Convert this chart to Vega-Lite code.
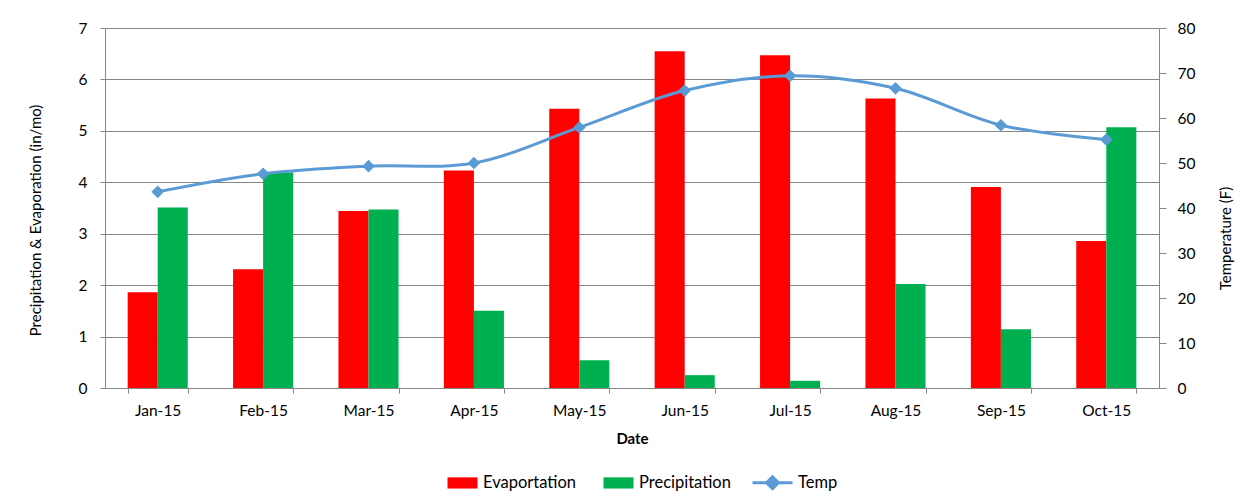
{
  "$schema": "https://vega.github.io/schema/vega-lite/v6.json",
  "width": 1054,
  "height": 360,
  "autosize": {"type": "none"},
  "padding": {"left": 105, "top": 28, "right": 87, "bottom": 111},
  "background": "white",
  "config": {
    "font": "Lato",
    "view": {"stroke": null},
    "axis": {
      "labelFont": "Lato",
      "titleFont": "Lato",
      "labelColor": "#000000",
      "titleColor": "#000000",
      "domainColor": "#868686",
      "tickColor": "#868686",
      "gridColor": "#868686",
      "labelFontSize": 15.5,
      "titleFontSize": 15
    }
  },
  "data": {
    "values": [
      {"month": "Jan-15", "Evaportation": 1.86, "Precipitation": 3.51, "Temp": 43.6},
      {"month": "Feb-15", "Evaportation": 2.31, "Precipitation": 4.19, "Temp": 47.6},
      {"month": "Mar-15", "Evaportation": 3.44, "Precipitation": 3.47, "Temp": 49.3},
      {"month": "Apr-15", "Evaportation": 4.23, "Precipitation": 1.50, "Temp": 50.0},
      {"month": "May-15", "Evaportation": 5.43, "Precipitation": 0.54, "Temp": 57.9},
      {"month": "Jun-15", "Evaportation": 6.55, "Precipitation": 0.25, "Temp": 66.1},
      {"month": "Jul-15", "Evaportation": 6.47, "Precipitation": 0.14, "Temp": 69.4},
      {"month": "Aug-15", "Evaportation": 5.63, "Precipitation": 2.02, "Temp": 66.6},
      {"month": "Sep-15", "Evaportation": 3.91, "Precipitation": 1.14, "Temp": 58.4},
      {"month": "Oct-15", "Evaportation": 2.86, "Precipitation": 5.07, "Temp": 55.2}
    ]
  },
  "encoding": {
    "x": {
      "field": "month",
      "type": "nominal",
      "sort": null,
      "scale": {"paddingInner": 0.43, "paddingOuter": 0.215},
      "axis": {
        "title": "Date",
        "titleFontWeight": "bold",
        "labelAngle": 0,
        "tickBand": "extent",
        "tickSize": 5,
        "labelPadding": 10,
        "titlePadding": 13,
        "grid": false
      }
    }
  },
  "layer": [
    {
      "transform": [{"fold": ["Evaportation", "Precipitation"], "as": ["series", "value"]}],
      "mark": {"type": "bar"},
      "encoding": {
        "xOffset": {"field": "series", "sort": ["Evaportation", "Precipitation"]},
        "y": {
          "field": "value",
          "type": "quantitative",
          "scale": {"domain": [0, 7], "nice": false},
          "axis": {
            "title": "Precipitation  & Evaporation (in/mo)",
            "titleFontWeight": "normal",
            "values": [0, 1, 2, 3, 4, 5, 6, 7],
            "grid": true,
            "tickSize": 5,
            "labelPadding": 13,
            "titlePadding": 35,
            "titleY": 192
          }
        },
        "fill": {
          "field": "series",
          "type": "nominal",
          "scale": {
            "domain": ["Evaportation", "Precipitation", "Temp"],
            "range": ["#FF0000", "#00B050", "#5B9BD5"]
          },
          "legend": {
            "title": null,
            "orient": "none",
            "legendX": 331,
            "legendY": 433,
            "direction": "horizontal",
            "padding": 0,
            "symbolSize": 1600,
            "labelFontSize": 16.5,
            "labelFont": "Lato",
            "labelColor": "#000000",
            "labelOffset": 4,
            "columnPadding": 15,
            "encode": {
              "symbols": {
                "update": {
                  "shape": {"signal": "datum.value === 'Temp' ? 'M-1,0H1M0,-0.3L0.3,0L0,0.3L-0.3,0Z' : 'M-0.5,-0.28H1V0.28H-0.5Z'"},
                  "stroke": {"signal": "datum.value === 'Temp' ? '#5B9BD5' : 'transparent'"},
                  "strokeWidth": {"value": 3}
                }
              }
            }
          }
        }
      }
    },
    {
      "encoding": {
        "y": {
          "field": "Temp",
          "type": "quantitative",
          "scale": {"domain": [0, 80], "nice": false},
          "axis": {
            "orient": "right",
            "title": "Temperature (F)",
            "titleFontWeight": "normal",
            "titleAngle": 270,
            "values": [0, 10, 20, 30, 40, 50, 60, 70, 80],
            "grid": false,
            "tickSize": 7,
            "labelPadding": 11,
            "titlePadding": 39,
            "titleY": 210
          }
        }
      },
      "layer": [
        {
          "mark": {"type": "line", "interpolate": "catmull-rom", "color": "#5B9BD5", "strokeWidth": 3}
        },
        {
          "mark": {"type": "point", "shape": "diamond", "filled": true, "size": 160, "opacity": 1},
          "encoding": {
            "fill": {"datum": "Temp"}
          }
        }
      ]
    }
  ],
  "resolve": {"scale": {"y": "independent"}}
}
